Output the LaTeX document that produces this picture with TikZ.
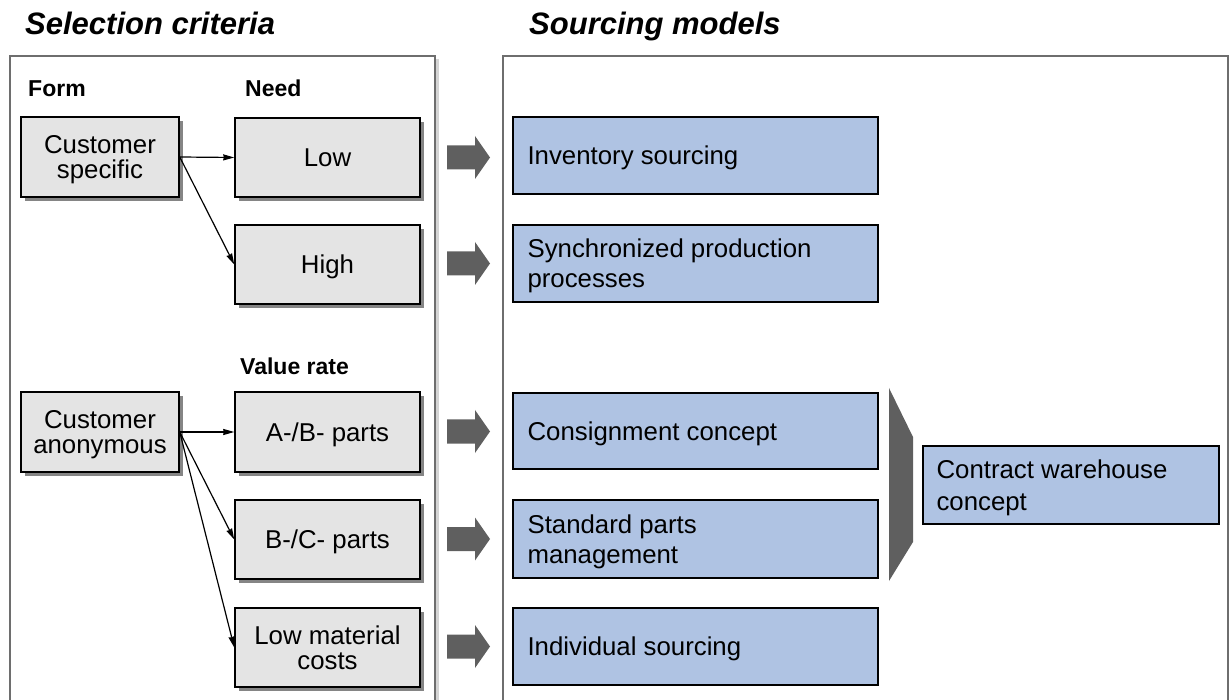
\documentclass[tikz,border=0pt]{standalone}
\usepackage{fontspec}
\setmainfont{Liberation Sans}
\usetikzlibrary{arrows.meta,shadows}
\definecolor{boxgray}{HTML}{E4E4E4}
\definecolor{boxblue}{HTML}{AFC3E3}
\definecolor{arrowgray}{HTML}{5F5F5F}
\definecolor{panelgray}{HTML}{6E6E6E}
\definecolor{panelshadow}{HTML}{D4D4D4}
\tikzset{
  leftbox/.style={draw=black, fill=boxgray, line width=1.5pt, align=center,
    font=\fontsize{25.8}{25.5}\selectfont, inner sep=2pt, text depth=0pt,
    drop shadow={shadow xshift=4pt, shadow yshift=-4pt, fill=black!48, opacity=1}},
  rightbox/.style={draw=black, fill=boxblue, line width=1.3pt, inner sep=0pt},
  rtext/.style={anchor=west, align=left, inner sep=0pt, text depth=0pt,
    font=\fontsize{25.8}{30}\selectfont},
  lbl/.style={anchor=base west, inner sep=0pt, font=\fontsize{23}{26}\selectfont\bfseries},
  ttl/.style={anchor=base west, inner sep=0pt, font=\fontsize{31}{34}\selectfont\bfseries\itshape},
  conn/.style={line width=1.2pt, -{Stealth[length=11pt,width=6pt,inset=0.5pt]}},
  panel/.style={draw=panelgray, line width=2pt},
  pshadow/.style={draw=panelshadow, line width=2.5pt},
}
\begin{document}
\begin{tikzpicture}[x=1pt,y=-1pt]
\useasboundingbox (0,0) rectangle (1229,700);
% panels
\draw[pshadow] (437.5,59) -- (437.5,705);
\draw[panel] (10,705) -- (10,56) -- (435,56) -- (435,705);
\draw[panel] (503,705) -- (503,56) -- (1227.5,56) -- (1227.5,705);
% titles
\node[ttl] (t1) at (25,35) {Selection criteria};
\node[ttl] (t2) at (529,35) {Sourcing models};
% labels
\node[lbl] (form) at (28,97) {Form};
\node[lbl] (need) at (245,97) {Need};
\node[lbl] (vrate) at (240,375) {Value rate};
% left boxes
\node[leftbox, minimum width=158pt, minimum height=80pt] (cs) at (100,157) {Customer\\specific};
\node[leftbox, minimum width=185pt, minimum height=79pt] (low) at (327.5,157.5) {Low};
\node[leftbox, minimum width=185pt, minimum height=79pt] (high) at (327.5,264.5) {High};
\node[leftbox, minimum width=158pt, minimum height=80pt] (ca) at (100,432) {Customer\\anonymous};
\node[leftbox, minimum width=185pt, minimum height=80pt] (ab) at (327.5,432) {A-/B- parts};
\node[leftbox, minimum width=185pt, minimum height=79pt] (bc) at (327.5,539.5) {B-/C- parts};
\node[leftbox, minimum width=185pt, minimum height=79pt] (lmc) at (327.5,647.5) {Low material\\costs};
% connectors
\draw[conn] (cs.east) -- (low.west);
\draw[conn] (cs.east) -- (high.west);
\draw[conn] (ca.east) -- (ab.west);
\draw[conn] (ca.east) -- (bc.west);
\draw[conn] (ca.east) -- (lmc.west);
% block arrows
\foreach \yy in {157.5,263.5,431.5,539,646.5}{
  \fill[arrowgray] (447,\yy-12) -- (475,\yy-12) -- (475,\yy-21.5) -- (490,\yy)
     -- (475,\yy+21.5) -- (475,\yy+12) -- (447,\yy+12) -- cycle;
}
% right boxes
\node[rightbox, minimum width=365pt, minimum height=77pt] (inv) at (695.5,155.5) {};
\node[rtext] (invt) at ([xshift=15pt]inv.west) {Inventory sourcing};
\node[rightbox, minimum width=365pt, minimum height=77pt] (sync) at (695.5,263.5) {};
\node[rtext] (synct) at ([xshift=15pt]sync.west) {Synchronized production\\processes};
\node[rightbox, minimum width=365pt, minimum height=76pt] (cons) at (695.5,431) {};
\node[rtext] (const) at ([xshift=15pt]cons.west) {Consignment concept};
\node[rightbox, minimum width=365pt, minimum height=78pt] (std) at (695.5,539) {};
\node[rtext] (stdt) at ([xshift=15pt]std.west) {Standard parts\\management};
\node[rightbox, minimum width=365pt, minimum height=77pt] (ind) at (695.5,646.5) {};
\node[rtext] (indt) at ([xshift=15pt]ind.west) {Individual sourcing};
% chevron
\fill[arrowgray] (889,388) -- (913,437) -- (913,542) -- (889,581) -- cycle;
\node[rightbox, minimum width=296pt, minimum height=78pt] (cw) at (1071,485) {};
\node[rtext, font=\fontsize{25.8}{32}\selectfont] (cwt) at ([xshift=14pt]cw.west) {Contract warehouse\\concept};
\end{tikzpicture}
\end{document}
